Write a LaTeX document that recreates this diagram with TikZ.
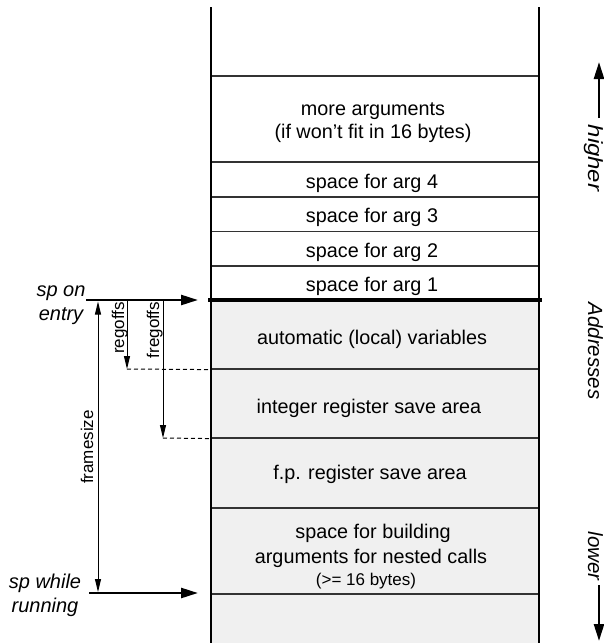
\documentclass[tikz,border=0pt]{standalone}
\usepackage{fontspec}
\setmainfont{Liberation Sans}
\usetikzlibrary{arrows.meta}
\definecolor{framegray}{gray}{0.94}
\definecolor{divider}{gray}{0.2}
\begin{document}
\begin{tikzpicture}[x=1pt,y=-1pt,
  cell/.style={draw=divider, line width=1.2pt, minimum width=328pt, inner sep=0pt},
  celltext/.style={anchor=base, inner sep=0pt, font=\fontsize{19.8}{24}\selectfont},
  smalltext/.style={anchor=base, inner sep=0pt, font=\fontsize{17}{20}\selectfont},
  side/.style={font=\fontsize{20}{24}\selectfont\itshape, align=center, inner sep=0pt},
  dirlbl/.style={font=\fontsize{20.5}{24}\selectfont\itshape, rotate=-90, anchor=base, inner sep=0pt},
  offlbl/.style={font=\fontsize{17}{20}\selectfont, rotate=90, anchor=base, inner sep=0pt},
  sparrow/.style={line width=2.5pt, -{Triangle[length=17pt,width=10pt]}},
  thinarrow/.style={line width=1pt, -{Triangle[length=13pt,width=6pt]}},
  fsarrow/.style={line width=1pt, {Triangle[length=13pt,width=6pt]}-{Triangle[length=13pt,width=6pt]}},
  guide/.style={line width=1pt, dash pattern=on 4pt off 3pt},
  wall/.style={line width=2pt}
]
\useasboundingbox (0,0) rectangle (604,643);
\fill[framegray] (211,300) rectangle (539,643);

% stack cells
\node[cell, minimum height=86pt]   (more)   at (375,119)    {};
\node[cell, minimum height=35pt]   (arg4)   at (375,179.5)  {};
\node[cell, minimum height=34.5pt] (arg3)   at (375,214.25) {};
\node[cell, minimum height=34.5pt] (arg2)   at (375,248.75) {};
\node[cell, minimum height=34pt]   (arg1)   at (375,283)    {};
\node[cell, minimum height=69pt]   (auto)   at (375,334.5)  {};
\node[cell, minimum height=69pt]   (intreg) at (375,403.5)  {};
\node[cell, minimum height=70pt]   (fpreg)  at (375,473)    {};
\node[cell, minimum height=86pt]   (build)  at (375,551)    {};

% cell texts
\node[celltext] (moreA)   at (373,115.5) {more arguments};
\node[celltext] (moreB)   at (373,138)   {(if won’t fit in 16 bytes)};
\node[celltext] (arg4T)   at (372,188)   {space for arg 4};
\node[celltext] (arg3T)   at (372,222.5) {space for arg 3};
\node[celltext] (arg2T)   at (372,257)   {space for arg 2};
\node[celltext] (arg1T)   at (372,291.5) {space for arg 1};
\node[celltext] (autoT)   at (372,344)   {automatic (local) variables};
\node[celltext] (intregT) at (369,413)   {integer register save area};
\node[celltext] (fpregT)  at (370,479)   {f.p. register save area};
\node[celltext] (buildA)  at (373,538)   {space for building};
\node[celltext] (buildB)  at (371,563)   {arguments for nested calls};
\node[smalltext] (buildC) at (366,585)   {(>= 16 bytes)};

% stack walls
\coordinate (topL) at (211,7);   \coordinate (botL) at (211,643);
\coordinate (topR) at (539,7);   \coordinate (botR) at (539,643);
\draw[wall] (topL) -- (botL);
\draw[wall] (topR) -- (botR);
\coordinate (spL) at (208,300);  \coordinate (spR) at (542,300);
\draw[line width=4.5pt] (spL) -- (spR);

% sp on entry
\coordinate (entryStart) at (86,300); \coordinate (entryTip) at (198,300);
\draw[sparrow] (entryStart) -- (entryTip);
\node[side] (spentry) at (61,305) {sp on\\entry};

% sp while running
\coordinate (runStart) at (89,593); \coordinate (runTip) at (198,593);
\draw[sparrow] (runStart) -- (runTip);
\node[side] (sprun) at (45,595) {sp while\\running};

% framesize
\coordinate (fsTop) at (98,301.5); \coordinate (fsBot) at (98,592);
\draw[fsarrow] (fsTop) -- (fsBot);
\node[offlbl] (fslbl) at (93,447) {framesize};

% regoffs
\coordinate (roTop) at (127,300); \coordinate (roTip) at (127,369);
\draw[thinarrow] (roTop) -- (roTip);
\draw[guide] (roTip) -- (auto.south west);
\node[offlbl] (rolbl) at (124,328) {regoffs};

% fregoffs
\coordinate (froTop) at (163,300); \coordinate (froTip) at (163,438);
\draw[thinarrow] (froTop) -- (froTip);
\draw[guide] (froTip) -- (intreg.south west);
\node[offlbl] (frolbl) at (159,330) {fregoffs};

% address direction
\coordinate (hiStart) at (599,118); \coordinate (hiTip) at (599,62);
\draw[sparrow] (hiStart) -- (hiTip);
\coordinate (loStart) at (599,585); \coordinate (loTip) at (599,641);
\draw[sparrow] (loStart) -- (loTip);
\node[dirlbl] (higher) at (588,158) {\scalebox{1.17}[1]{higher}};
\node[dirlbl] (addr)   at (588,351) {Addresses};
\node[dirlbl] (lower)  at (588,556) {lower};
\end{tikzpicture}
\end{document}
